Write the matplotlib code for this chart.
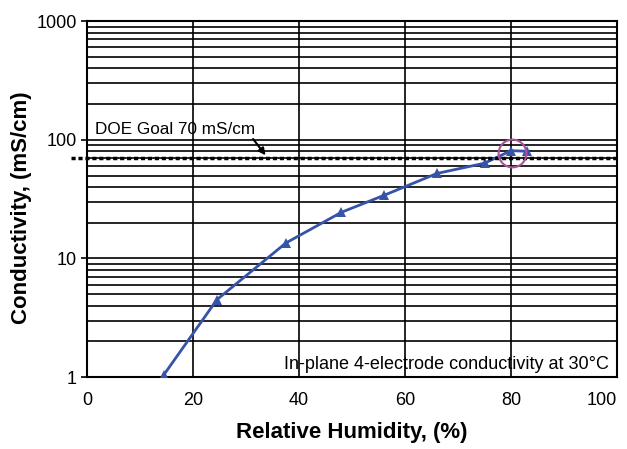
import matplotlib.pyplot as plt

plt.rcParams['font.family'] = ['Liberation Sans', 'DejaVu Sans']

rh = [14.5, 24.5, 37.5, 48, 56, 66, 75, 80, 83]
sigma = [1.05, 4.5, 13.5, 24.5, 34, 52, 63.5, 81, 80]
doe_goal = 70
x_ticks = [0, 20, 40, 60, 80, 100]
y_ticks = [1, 10, 100, 1000]

fig = plt.figure(figsize=(6.27, 4.49), dpi=100)
ax = fig.add_axes([0.139, 0.160, 0.845, 0.793])

ax.set_yscale('log')
ax.set_xlim(0, 100)
ax.set_ylim(1, 1000)

# Gitter: jede Nebenteilung horizontal, 20er vertikal
ax.grid(True, which='major', axis='both', color='black', linewidth=1.2)
ax.grid(True, which='minor', axis='y', color='black', linewidth=1.2)

ax.plot(rh, sigma, color='#3553a8', linewidth=2, marker='^', markersize=6.5,
        markeredgewidth=0, zorder=4)

# DOE-Ziel
ax.axhline(doe_goal, xmin=-0.03, xmax=1.0, color='black', linewidth=2.5,
           linestyle=(0, (1.2, 0.8)), clip_on=False, zorder=5)
ax.text(1.5, 122, 'DOE Goal 70 mS/cm', fontsize=12.3, va='center', ha='left',
        zorder=3)
ax.annotate('', xy=(34, 71), xytext=(31, 106),
            arrowprops=dict(arrowstyle='-|>', color='black', lw=1.5,
                            mutation_scale=10), zorder=6)

# Kreis um den Messpunkt bei 80 %
ax.plot([80.2], [77], marker='o', markersize=20, markerfacecolor='none',
        markeredgecolor='#b0509a', markeredgewidth=1.5, zorder=6)

ax.text(98.5, 1.27, 'In-plane 4-electrode conductivity at 30\u00b0C', fontsize=13,
        ha='right', va='center', zorder=3)

ax.set_xticks(x_ticks)
ax.set_yticks(y_ticks)
ax.set_yticklabels([str(v) for v in y_ticks])
ax.tick_params(axis='both', labelsize=13)
# letzte x-Beschriftung rechtsbündig, damit sie nicht abgeschnitten wird
ax.xaxis.get_major_ticks()[-1].label1.set_horizontalalignment('right')

ax.tick_params(axis='x', length=0, pad=11)
ax.tick_params(axis='y', which='major', length=4.5, width=1.2, pad=3)
ax.tick_params(axis='y', which='minor', length=0)
for s in ax.spines.values():
    s.set_linewidth(1.5)

ax.set_xlabel('Relative Humidity, (%)', fontsize=16, fontweight='bold', labelpad=9)
ax.set_ylabel('Conductivity, (mS/cm)', fontsize=16, fontweight='bold')
ax.yaxis.set_label_coords(-0.105, 0.475)

plt.savefig('out.png', dpi=100)
